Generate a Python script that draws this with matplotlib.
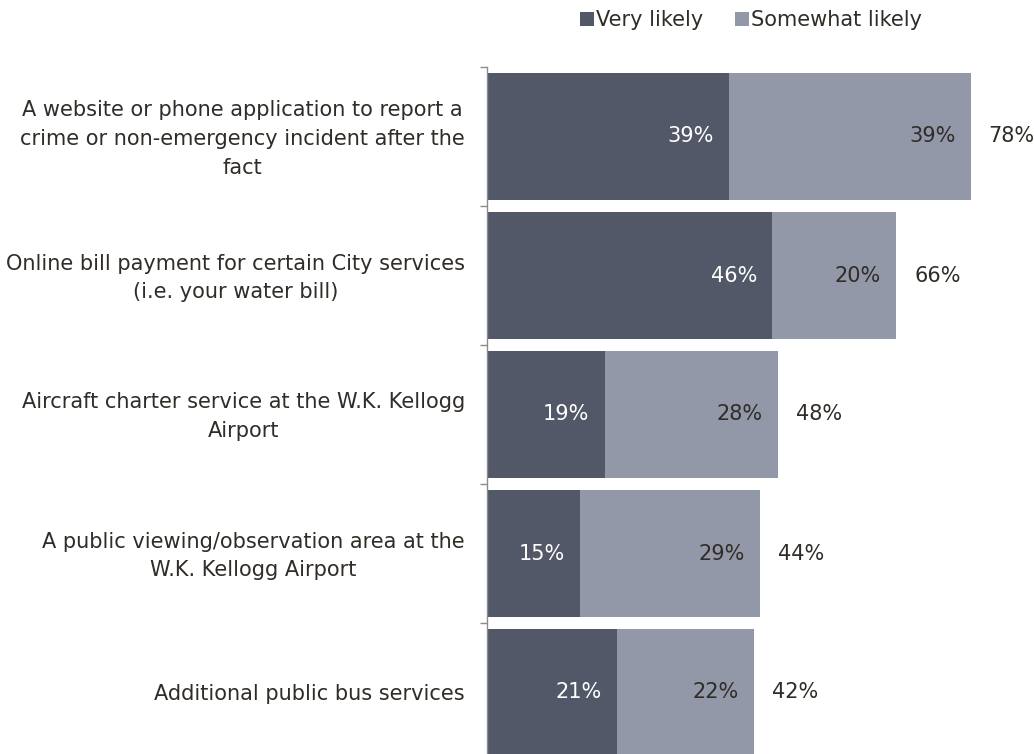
import matplotlib
matplotlib.use("Agg")
import matplotlib.pyplot as plt
import matplotlib.transforms as mtransforms
from matplotlib.ticker import FixedLocator

categories = [
    "A website or phone application to report a\ncrime or non-emergency incident after the\nfact",
    "Online bill payment for certain City services\n(i.e. your water bill)",
    "Aircraft charter service at the W.K. Kellogg\nAirport",
    "A public viewing/observation area at the\nW.K. Kellogg Airport",
    "Additional public bus services",
]
very_likely = [39, 46, 19, 15, 21]
somewhat_likely = [39, 20, 28, 29, 22]
totals = [78, 66, 48, 44, 42]
series_names = ["Very likely", "Somewhat likely"]

DARK = "#535869"
LIGHT = "#9398a8"
TEXT = "#302c27"
FS = 15

plt.rcParams["font.family"] = ["DejaVu Sans"]

W, H = 1034, 754
fig = plt.figure(figsize=(W / 100, H / 100), dpi=100)
ax_left, ax_top, ax_bottom = 487, 67, 762
ax = fig.add_axes([ax_left / W, 1 - ax_bottom / H, (W - ax_left) / W, (ax_bottom - ax_top) / H])

n = len(categories)
ypos = list(range(n))
bar_h = 0.914

b1 = ax.barh(ypos, very_likely, height=bar_h, color=DARK, label=series_names[0])
b2 = ax.barh(ypos, somewhat_likely, left=very_likely, height=bar_h, color=LIGHT,
             label=series_names[1])

ax.set_xlim(0, (W - ax_left) / 6.2)
ax.set_ylim(n - 0.5, -0.5)

# value labels inside the end of each segment, totals just past the bar
for i in range(n):
    v1, v2 = very_likely[i], somewhat_likely[i]
    ax.annotate(f"{v1}%", xy=(v1, i), xytext=(-11, 0), textcoords="offset points",
                ha="right", va="center", color="white", fontsize=FS)
    ax.annotate(f"{v2}%", xy=(v1 + v2, i), xytext=(-11, 0), textcoords="offset points",
                ha="right", va="center", color=TEXT, fontsize=FS)
    ax.annotate(f"{totals[i]}%", xy=(v1 + v2, i), xytext=(13, 0), textcoords="offset points",
                ha="left", va="center", color=TEXT, fontsize=FS)

# only the left spine, with tick marks between categories
for side in ("top", "right", "bottom"):
    ax.spines[side].set_visible(False)
ax.spines["left"].set_color("#8c8c8c")
ax.spines["left"].set_linewidth(1.0)
ax.set_xticks([])
ax.set_yticks(ypos)
ax.set_yticklabels(categories, fontsize=FS, color=TEXT, multialignment="center")
ax.tick_params(axis="y", which="major", length=0, pad=16)
ax.yaxis.set_minor_locator(FixedLocator([i - 0.5 for i in range(n + 1)]))
ax.tick_params(axis="y", which="minor", length=5, width=1.0, color="#8c8c8c")

# nudge wrapped labels up slightly so the text block sits centred on its bar
lift = mtransforms.ScaledTranslation(0, 4 / 100, fig.dpi_scale_trans)
for tick in ax.yaxis.get_major_ticks():
    lbl = tick.label1
    lbl.set_linespacing(1.55)
    if "\n" in lbl.get_text():
        lbl.set_transform(lbl.get_transform() + lift)

fig.legend(handles=[b1, b2], labels=series_names, loc="center", ncol=2, frameon=False,
           bbox_to_anchor=(751 / W, 1 - 20 / H), fontsize=FS, labelcolor=TEXT,
           handlelength=0.67, handleheight=0.67, handletextpad=0.12, columnspacing=1.5,
           borderpad=0, borderaxespad=0)

fig.savefig("out.png", dpi=100)
